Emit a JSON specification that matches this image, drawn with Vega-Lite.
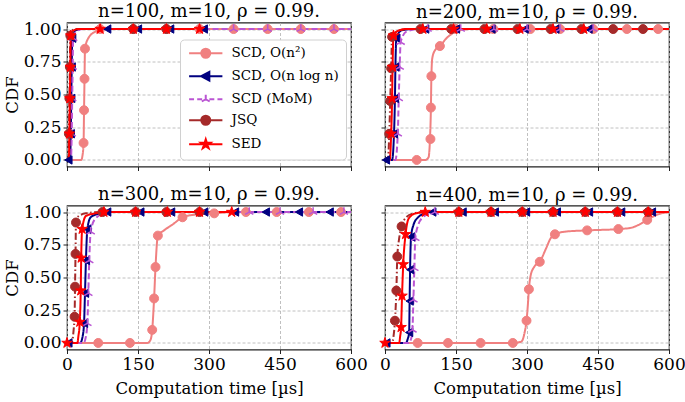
{
"$schema": "https://vega.github.io/schema/vega-lite/v6.json",
"padding": {"left": 3, "top": 1.5, "right": 4, "bottom": 2},
"datasets": {
"curves": [
{"n":100,"s":"n2","t":0,"y":0},{"n":100,"s":"n2","t":30,"y":0},{"n":100,"s":"n2","t":33,"y":0.04},{"n":100,"s":"n2","t":35,"y":0.13},{"n":100,"s":"n2","t":36,"y":0.38},{"n":100,"s":"n2","t":37,"y":0.62},{"n":100,"s":"n2","t":38,"y":0.85},{"n":100,"s":"n2","t":45,"y":0.93},{"n":100,"s":"n2","t":60,"y":0.98},{"n":100,"s":"n2","t":80,"y":1},{"n":100,"s":"n2","t":600,"y":1},
{"n":100,"s":"nlogn","t":0,"y":0},{"n":100,"s":"nlogn","t":6,"y":0},{"n":100,"s":"nlogn","t":8,"y":0.2},{"n":100,"s":"nlogn","t":9,"y":0.47},{"n":100,"s":"nlogn","t":10,"y":0.71},{"n":100,"s":"nlogn","t":11,"y":0.93},{"n":100,"s":"nlogn","t":18,"y":0.99},{"n":100,"s":"nlogn","t":30,"y":1},{"n":100,"s":"nlogn","t":290,"y":1},
{"n":100,"s":"mom","t":0,"y":0},{"n":100,"s":"mom","t":8,"y":0},{"n":100,"s":"mom","t":10,"y":0.2},{"n":100,"s":"mom","t":11,"y":0.47},{"n":100,"s":"mom","t":12,"y":0.71},{"n":100,"s":"mom","t":13,"y":0.93},{"n":100,"s":"mom","t":22,"y":0.99},{"n":100,"s":"mom","t":35,"y":1},{"n":100,"s":"mom","t":600,"y":1},
{"n":100,"s":"jsq","t":0,"y":0},{"n":100,"s":"jsq","t":3,"y":0},{"n":100,"s":"jsq","t":4,"y":0.2},{"n":100,"s":"jsq","t":5,"y":0.47},{"n":100,"s":"jsq","t":6,"y":0.71},{"n":100,"s":"jsq","t":7,"y":0.95},{"n":100,"s":"jsq","t":15,"y":1},{"n":100,"s":"jsq","t":280,"y":1},
{"n":100,"s":"sed","t":0,"y":0},{"n":100,"s":"sed","t":4,"y":0},{"n":100,"s":"sed","t":5,"y":0.2},{"n":100,"s":"sed","t":6,"y":0.47},{"n":100,"s":"sed","t":7,"y":0.71},{"n":100,"s":"sed","t":8,"y":0.95},{"n":100,"s":"sed","t":14,"y":0.99},{"n":100,"s":"sed","t":25,"y":1},{"n":100,"s":"sed","t":280,"y":1},

{"n":200,"s":"n2","t":0,"y":0},{"n":200,"s":"n2","t":85,"y":0},{"n":200,"s":"n2","t":92,"y":0.02},{"n":200,"s":"n2","t":95,"y":0.16},{"n":200,"s":"n2","t":97,"y":0.4},{"n":200,"s":"n2","t":98,"y":0.64},{"n":200,"s":"n2","t":100,"y":0.78},{"n":200,"s":"n2","t":106,"y":0.84},{"n":200,"s":"n2","t":116,"y":0.87},{"n":200,"s":"n2","t":130,"y":0.93},{"n":200,"s":"n2","t":150,"y":0.98},{"n":200,"s":"n2","t":180,"y":1},{"n":200,"s":"n2","t":600,"y":1},
{"n":200,"s":"nlogn","t":0,"y":0},{"n":200,"s":"nlogn","t":15,"y":0},{"n":200,"s":"nlogn","t":19,"y":0.2},{"n":200,"s":"nlogn","t":21,"y":0.47},{"n":200,"s":"nlogn","t":22,"y":0.71},{"n":200,"s":"nlogn","t":24,"y":0.93},{"n":200,"s":"nlogn","t":35,"y":0.99},{"n":200,"s":"nlogn","t":60,"y":1},{"n":200,"s":"nlogn","t":600,"y":1},
{"n":200,"s":"mom","t":0,"y":0},{"n":200,"s":"mom","t":22,"y":0},{"n":200,"s":"mom","t":27,"y":0.2},{"n":200,"s":"mom","t":29,"y":0.47},{"n":200,"s":"mom","t":31,"y":0.71},{"n":200,"s":"mom","t":33,"y":0.9},{"n":200,"s":"mom","t":45,"y":0.98},{"n":200,"s":"mom","t":70,"y":1},{"n":200,"s":"mom","t":600,"y":1},
{"n":200,"s":"jsq","t":0,"y":0},{"n":200,"s":"jsq","t":6,"y":0},{"n":200,"s":"jsq","t":9,"y":0.2},{"n":200,"s":"jsq","t":11,"y":0.45},{"n":200,"s":"jsq","t":13,"y":0.7},{"n":200,"s":"jsq","t":15,"y":0.94},{"n":200,"s":"jsq","t":30,"y":0.99},{"n":200,"s":"jsq","t":50,"y":1},{"n":200,"s":"jsq","t":600,"y":1},
{"n":200,"s":"sed","t":0,"y":0},{"n":200,"s":"sed","t":10,"y":0},{"n":200,"s":"sed","t":13,"y":0.2},{"n":200,"s":"sed","t":15,"y":0.47},{"n":200,"s":"sed","t":16,"y":0.71},{"n":200,"s":"sed","t":18,"y":0.95},{"n":200,"s":"sed","t":30,"y":0.99},{"n":200,"s":"sed","t":45,"y":1},{"n":200,"s":"sed","t":600,"y":1},

{"n":300,"s":"n2","t":0,"y":0},{"n":300,"s":"n2","t":170,"y":0},{"n":300,"s":"n2","t":176,"y":0.02},{"n":300,"s":"n2","t":180,"y":0.1},{"n":300,"s":"n2","t":184,"y":0.34},{"n":300,"s":"n2","t":187,"y":0.58},{"n":300,"s":"n2","t":192,"y":0.82},{"n":300,"s":"n2","t":205,"y":0.86},{"n":300,"s":"n2","t":225,"y":0.91},{"n":300,"s":"n2","t":244,"y":0.96},{"n":300,"s":"n2","t":270,"y":0.98},{"n":300,"s":"n2","t":311,"y":0.99},{"n":300,"s":"n2","t":350,"y":1},{"n":300,"s":"n2","t":600,"y":1},
{"n":300,"s":"nlogn","t":0,"y":0},{"n":300,"s":"nlogn","t":28,"y":0},{"n":300,"s":"nlogn","t":33,"y":0.05},{"n":300,"s":"nlogn","t":36,"y":0.15},{"n":300,"s":"nlogn","t":38,"y":0.38},{"n":300,"s":"nlogn","t":40,"y":0.63},{"n":300,"s":"nlogn","t":43,"y":0.87},{"n":300,"s":"nlogn","t":50,"y":0.96},{"n":300,"s":"nlogn","t":70,"y":0.99},{"n":300,"s":"nlogn","t":90,"y":1},{"n":300,"s":"nlogn","t":600,"y":1},
{"n":300,"s":"mom","t":0,"y":0},{"n":300,"s":"mom","t":35,"y":0},{"n":300,"s":"mom","t":40,"y":0.05},{"n":300,"s":"mom","t":43,"y":0.15},{"n":300,"s":"mom","t":45,"y":0.38},{"n":300,"s":"mom","t":47,"y":0.63},{"n":300,"s":"mom","t":50,"y":0.85},{"n":300,"s":"mom","t":60,"y":0.95},{"n":300,"s":"mom","t":80,"y":0.99},{"n":300,"s":"mom","t":100,"y":1},{"n":300,"s":"mom","t":600,"y":1},
{"n":300,"s":"jsq","t":0,"y":0},{"n":300,"s":"jsq","t":10,"y":0},{"n":300,"s":"jsq","t":14,"y":0.1},{"n":300,"s":"jsq","t":16,"y":0.2},{"n":300,"s":"jsq","t":17,"y":0.43},{"n":300,"s":"jsq","t":18,"y":0.68},{"n":300,"s":"jsq","t":19,"y":0.92},{"n":300,"s":"jsq","t":25,"y":0.97},{"n":300,"s":"jsq","t":40,"y":0.99},{"n":300,"s":"jsq","t":70,"y":1},{"n":300,"s":"jsq","t":350,"y":1},
{"n":300,"s":"sed","t":0,"y":0},{"n":300,"s":"sed","t":22,"y":0},{"n":300,"s":"sed","t":24,"y":0.05},{"n":300,"s":"sed","t":27,"y":0.16},{"n":300,"s":"sed","t":29,"y":0.4},{"n":300,"s":"sed","t":30,"y":0.65},{"n":300,"s":"sed","t":32,"y":0.87},{"n":300,"s":"sed","t":40,"y":0.97},{"n":300,"s":"sed","t":60,"y":0.99},{"n":300,"s":"sed","t":80,"y":1},{"n":300,"s":"sed","t":350,"y":1},

{"n":400,"s":"n2","t":0,"y":0},{"n":400,"s":"n2","t":270,"y":0},{"n":400,"s":"n2","t":288,"y":0.01},{"n":400,"s":"n2","t":295,"y":0.08},{"n":400,"s":"n2","t":299,"y":0.17},{"n":400,"s":"n2","t":302,"y":0.3},{"n":400,"s":"n2","t":304,"y":0.41},{"n":400,"s":"n2","t":308,"y":0.52},{"n":400,"s":"n2","t":315,"y":0.58},{"n":400,"s":"n2","t":327,"y":0.62},{"n":400,"s":"n2","t":340,"y":0.72},{"n":400,"s":"n2","t":350,"y":0.8},{"n":400,"s":"n2","t":359,"y":0.83},{"n":400,"s":"n2","t":380,"y":0.85},{"n":400,"s":"n2","t":427,"y":0.86},{"n":400,"s":"n2","t":493,"y":0.87},{"n":400,"s":"n2","t":520,"y":0.88},{"n":400,"s":"n2","t":540,"y":0.91},{"n":400,"s":"n2","t":554,"y":0.94},{"n":400,"s":"n2","t":575,"y":0.98},{"n":400,"s":"n2","t":600,"y":1},
{"n":400,"s":"nlogn","t":0,"y":0},{"n":400,"s":"nlogn","t":44,"y":0},{"n":400,"s":"nlogn","t":48,"y":0.03},{"n":400,"s":"nlogn","t":51,"y":0.08},{"n":400,"s":"nlogn","t":52,"y":0.32},{"n":400,"s":"nlogn","t":53,"y":0.56},{"n":400,"s":"nlogn","t":55,"y":0.81},{"n":400,"s":"nlogn","t":60,"y":0.9},{"n":400,"s":"nlogn","t":70,"y":0.96},{"n":400,"s":"nlogn","t":85,"y":0.99},{"n":400,"s":"nlogn","t":100,"y":1},{"n":400,"s":"nlogn","t":600,"y":1},
{"n":400,"s":"mom","t":0,"y":0},{"n":400,"s":"mom","t":50,"y":0},{"n":400,"s":"mom","t":55,"y":0.03},{"n":400,"s":"mom","t":58,"y":0.1},{"n":400,"s":"mom","t":60,"y":0.33},{"n":400,"s":"mom","t":62,"y":0.57},{"n":400,"s":"mom","t":64,"y":0.8},{"n":400,"s":"mom","t":70,"y":0.9},{"n":400,"s":"mom","t":80,"y":0.96},{"n":400,"s":"mom","t":95,"y":0.99},{"n":400,"s":"mom","t":110,"y":1},{"n":400,"s":"mom","t":600,"y":1},
{"n":400,"s":"jsq","t":0,"y":0},{"n":400,"s":"jsq","t":15,"y":0},{"n":400,"s":"jsq","t":18,"y":0.05},{"n":400,"s":"jsq","t":21,"y":0.17},{"n":400,"s":"jsq","t":24,"y":0.4},{"n":400,"s":"jsq","t":26,"y":0.66},{"n":400,"s":"jsq","t":30,"y":0.8},{"n":400,"s":"jsq","t":35,"y":0.89},{"n":400,"s":"jsq","t":45,"y":0.96},{"n":400,"s":"jsq","t":60,"y":0.99},{"n":400,"s":"jsq","t":80,"y":1},{"n":400,"s":"jsq","t":600,"y":1},
{"n":400,"s":"sed","t":0,"y":0},{"n":400,"s":"sed","t":30,"y":0},{"n":400,"s":"sed","t":32,"y":0.05},{"n":400,"s":"sed","t":34,"y":0.12},{"n":400,"s":"sed","t":36,"y":0.36},{"n":400,"s":"sed","t":38.5,"y":0.6},{"n":400,"s":"sed","t":43.5,"y":0.83},{"n":400,"s":"sed","t":50,"y":0.95},{"n":400,"s":"sed","t":65,"y":0.99},{"n":400,"s":"sed","t":90,"y":1},{"n":400,"s":"sed","t":600,"y":1}
],
"marks": [
{"n":100,"s":"n2","t":35,"y":0.13},{"n":100,"s":"n2","t":36,"y":0.38},{"n":100,"s":"n2","t":37,"y":0.62},{"n":100,"s":"n2","t":38,"y":0.85},{"n":100,"s":"n2","t":70,"y":1},{"n":100,"s":"n2","t":140,"y":1},{"n":100,"s":"n2","t":210,"y":1},{"n":100,"s":"n2","t":280,"y":1},{"n":100,"s":"n2","t":352,"y":1},{"n":100,"s":"n2","t":424,"y":1},{"n":100,"s":"n2","t":494,"y":1},{"n":100,"s":"n2","t":564,"y":1},
{"n":100,"s":"nlogn","t":3,"y":0},{"n":100,"s":"nlogn","t":8,"y":0.2},{"n":100,"s":"nlogn","t":9,"y":0.47},{"n":100,"s":"nlogn","t":10,"y":0.71},{"n":100,"s":"nlogn","t":11,"y":0.93},{"n":100,"s":"nlogn","t":85,"y":1},{"n":100,"s":"nlogn","t":150,"y":1},{"n":100,"s":"nlogn","t":218,"y":1},{"n":100,"s":"nlogn","t":289,"y":1},
{"n":100,"s":"mom","t":10,"y":0.2},{"n":100,"s":"mom","t":11,"y":0.47},{"n":100,"s":"mom","t":12,"y":0.71},{"n":100,"s":"mom","t":13,"y":0.93},{"n":100,"s":"mom","t":352,"y":1},{"n":100,"s":"mom","t":424,"y":1},{"n":100,"s":"mom","t":494,"y":1},{"n":100,"s":"mom","t":564,"y":1},
{"n":100,"s":"jsq","t":4,"y":0.2},{"n":100,"s":"jsq","t":5,"y":0.47},{"n":100,"s":"jsq","t":6,"y":0.71},{"n":100,"s":"jsq","t":7,"y":0.95},{"n":100,"s":"jsq","t":140,"y":1},{"n":100,"s":"jsq","t":210,"y":1},
{"n":100,"s":"sed","t":5,"y":0.2},{"n":100,"s":"sed","t":6,"y":0.47},{"n":100,"s":"sed","t":7,"y":0.71},{"n":100,"s":"sed","t":8,"y":0.95},{"n":100,"s":"sed","t":70,"y":1},{"n":100,"s":"sed","t":140,"y":1},{"n":100,"s":"sed","t":210,"y":1},{"n":100,"s":"sed","t":280,"y":1},

{"n":200,"s":"n2","t":67,"y":0},{"n":200,"s":"n2","t":96,"y":0.16},{"n":200,"s":"n2","t":97,"y":0.4},{"n":200,"s":"n2","t":98,"y":0.64},{"n":200,"s":"n2","t":116,"y":0.87},{"n":200,"s":"n2","t":150,"y":1},{"n":200,"s":"n2","t":229,"y":1},{"n":200,"s":"n2","t":307,"y":1},{"n":200,"s":"n2","t":370,"y":1},{"n":200,"s":"n2","t":440,"y":1},{"n":200,"s":"n2","t":511,"y":1},{"n":200,"s":"n2","t":577,"y":1},
{"n":200,"s":"nlogn","t":2,"y":0},{"n":200,"s":"nlogn","t":19,"y":0.2},{"n":200,"s":"nlogn","t":21,"y":0.47},{"n":200,"s":"nlogn","t":22,"y":0.71},{"n":200,"s":"nlogn","t":24,"y":0.93},{"n":200,"s":"nlogn","t":85,"y":1},{"n":200,"s":"nlogn","t":150,"y":1},{"n":200,"s":"nlogn","t":225,"y":1},{"n":200,"s":"nlogn","t":295,"y":1},{"n":200,"s":"nlogn","t":360,"y":1},{"n":200,"s":"nlogn","t":430,"y":1},
{"n":200,"s":"mom","t":27,"y":0.2},{"n":200,"s":"mom","t":29,"y":0.47},{"n":200,"s":"mom","t":31,"y":0.71},{"n":200,"s":"mom","t":33,"y":0.9},{"n":200,"s":"mom","t":90,"y":1},{"n":200,"s":"mom","t":160,"y":1},{"n":200,"s":"mom","t":230,"y":1},{"n":200,"s":"mom","t":300,"y":1},{"n":200,"s":"mom","t":370,"y":1},{"n":200,"s":"mom","t":440,"y":1},
{"n":200,"s":"jsq","t":9,"y":0.2},{"n":200,"s":"jsq","t":11,"y":0.45},{"n":200,"s":"jsq","t":13,"y":0.7},{"n":200,"s":"jsq","t":15,"y":0.94},{"n":200,"s":"jsq","t":75,"y":1},{"n":200,"s":"jsq","t":140,"y":1},{"n":200,"s":"jsq","t":210,"y":1},{"n":200,"s":"jsq","t":280,"y":1},{"n":200,"s":"jsq","t":350,"y":1},{"n":200,"s":"jsq","t":415,"y":1},{"n":200,"s":"jsq","t":482,"y":1},{"n":200,"s":"jsq","t":545,"y":1},
{"n":200,"s":"sed","t":13,"y":0.2},{"n":200,"s":"sed","t":15,"y":0.47},{"n":200,"s":"sed","t":16,"y":0.71},{"n":200,"s":"sed","t":18,"y":0.95},{"n":200,"s":"sed","t":80,"y":1},{"n":200,"s":"sed","t":145,"y":1},{"n":200,"s":"sed","t":215,"y":1},{"n":200,"s":"sed","t":285,"y":1},{"n":200,"s":"sed","t":355,"y":1},{"n":200,"s":"sed","t":420,"y":1},

{"n":300,"s":"n2","t":66,"y":0},{"n":300,"s":"n2","t":133,"y":0},{"n":300,"s":"n2","t":180,"y":0.1},{"n":300,"s":"n2","t":184,"y":0.34},{"n":300,"s":"n2","t":187,"y":0.58},{"n":300,"s":"n2","t":192,"y":0.82},{"n":300,"s":"n2","t":244,"y":0.96},{"n":300,"s":"n2","t":311,"y":0.99},{"n":300,"s":"n2","t":378,"y":1},{"n":300,"s":"n2","t":443,"y":1},{"n":300,"s":"n2","t":511,"y":1},{"n":300,"s":"n2","t":579,"y":1},
{"n":300,"s":"nlogn","t":3,"y":0},{"n":300,"s":"nlogn","t":36,"y":0.15},{"n":300,"s":"nlogn","t":38,"y":0.38},{"n":300,"s":"nlogn","t":40,"y":0.63},{"n":300,"s":"nlogn","t":43,"y":0.87},{"n":300,"s":"nlogn","t":85,"y":1},{"n":300,"s":"nlogn","t":155,"y":1},{"n":300,"s":"nlogn","t":220,"y":1},{"n":300,"s":"nlogn","t":290,"y":1},{"n":300,"s":"nlogn","t":355,"y":1},{"n":300,"s":"nlogn","t":420,"y":1},{"n":300,"s":"nlogn","t":490,"y":1},{"n":300,"s":"nlogn","t":555,"y":1},
{"n":300,"s":"mom","t":43,"y":0.15},{"n":300,"s":"mom","t":45,"y":0.38},{"n":300,"s":"mom","t":47,"y":0.63},{"n":300,"s":"mom","t":50,"y":0.85},{"n":300,"s":"mom","t":385,"y":1},{"n":300,"s":"mom","t":450,"y":1},{"n":300,"s":"mom","t":520,"y":1},{"n":300,"s":"mom","t":585,"y":1},
{"n":300,"s":"jsq","t":16,"y":0.2},{"n":300,"s":"jsq","t":17,"y":0.43},{"n":300,"s":"jsq","t":18,"y":0.68},{"n":300,"s":"jsq","t":19,"y":0.92},{"n":300,"s":"jsq","t":75,"y":1},{"n":300,"s":"jsq","t":145,"y":1},{"n":300,"s":"jsq","t":210,"y":1},{"n":300,"s":"jsq","t":280,"y":1},
{"n":300,"s":"sed","t":0,"y":0},{"n":300,"s":"sed","t":27,"y":0.16},{"n":300,"s":"sed","t":29,"y":0.4},{"n":300,"s":"sed","t":30,"y":0.65},{"n":300,"s":"sed","t":32,"y":0.87},{"n":300,"s":"sed","t":78,"y":1},{"n":300,"s":"sed","t":145,"y":1},{"n":300,"s":"sed","t":212,"y":1},{"n":300,"s":"sed","t":280,"y":1},{"n":300,"s":"sed","t":348,"y":1},

{"n":400,"s":"n2","t":69,"y":0},{"n":400,"s":"n2","t":133,"y":0},{"n":400,"s":"n2","t":202,"y":0},{"n":400,"s":"n2","t":270,"y":0},{"n":400,"s":"n2","t":299,"y":0.17},{"n":400,"s":"n2","t":304,"y":0.41},{"n":400,"s":"n2","t":327,"y":0.62},{"n":400,"s":"n2","t":359,"y":0.83},{"n":400,"s":"n2","t":427,"y":0.86},{"n":400,"s":"n2","t":493,"y":0.87},{"n":400,"s":"n2","t":554,"y":0.94},
{"n":400,"s":"nlogn","t":3,"y":0},{"n":400,"s":"nlogn","t":51,"y":0.08},{"n":400,"s":"nlogn","t":52,"y":0.32},{"n":400,"s":"nlogn","t":53,"y":0.56},{"n":400,"s":"nlogn","t":55,"y":0.81},{"n":400,"s":"nlogn","t":100,"y":1},{"n":400,"s":"nlogn","t":164,"y":1},{"n":400,"s":"nlogn","t":232,"y":1},{"n":400,"s":"nlogn","t":298,"y":1},{"n":400,"s":"nlogn","t":363,"y":1},{"n":400,"s":"nlogn","t":431,"y":1},{"n":400,"s":"nlogn","t":499,"y":1},{"n":400,"s":"nlogn","t":564,"y":1},
{"n":400,"s":"mom","t":58,"y":0.1},{"n":400,"s":"mom","t":60,"y":0.33},{"n":400,"s":"mom","t":62,"y":0.57},{"n":400,"s":"mom","t":64,"y":0.8},{"n":400,"s":"mom","t":105,"y":1},
{"n":400,"s":"jsq","t":21,"y":0.17},{"n":400,"s":"jsq","t":24,"y":0.4},{"n":400,"s":"jsq","t":26,"y":0.66},{"n":400,"s":"jsq","t":35,"y":0.89},{"n":400,"s":"jsq","t":156,"y":1},{"n":400,"s":"jsq","t":224,"y":1},{"n":400,"s":"jsq","t":290,"y":1},{"n":400,"s":"jsq","t":355,"y":1},{"n":400,"s":"jsq","t":423,"y":1},{"n":400,"s":"jsq","t":491,"y":1},{"n":400,"s":"jsq","t":556,"y":1},
{"n":400,"s":"sed","t":0,"y":0},{"n":400,"s":"sed","t":34,"y":0.12},{"n":400,"s":"sed","t":36,"y":0.36},{"n":400,"s":"sed","t":38.5,"y":0.6},{"n":400,"s":"sed","t":43.5,"y":0.83},{"n":400,"s":"sed","t":85,"y":1},{"n":400,"s":"sed","t":156,"y":1},{"n":400,"s":"sed","t":224,"y":1},{"n":400,"s":"sed","t":290,"y":1},{"n":400,"s":"sed","t":355,"y":1},{"n":400,"s":"sed","t":423,"y":1},{"n":400,"s":"sed","t":491,"y":1},{"n":400,"s":"sed","t":556,"y":1}
]
},
"columns": 2,
"spacing": {"row": 39, "column": 34},
"bounds": "flush",
"concat": [
{
"width": 284, "height": 144,
"title": "n=100, m=10, ρ = 0.99.",
"encoding": {
"x": {"field": "t", "type": "quantitative", "scale": {"domain": [0, 600], "nice": false, "zero": false}, "axis": {"values": [0, 150, 300, 450, 600], "labels": false, "title": null}},
"y": {"field": "y", "type": "quantitative", "scale": {"domain": [-0.05, 1.05], "nice": false, "zero": false}, "axis": {"values": [0, 0.25, 0.5, 0.75, 1], "format": ".2f", "title": "CDF"}}
},
"layer": [
{"data": {"name": "curves"}, "transform": [{"filter": "datum.n===100"}], "mark": {"type": "line", "strokeWidth": 2, "interpolate": "monotone"},
"encoding": {
"color": {"field": "s", "type": "nominal", "scale": {"domain": ["sed", "jsq", "mom", "nlogn", "n2"], "range": ["#FF0000", "#A52A2A", "#BA55D3", "#000080", "#F08080"]}, "legend": null},
"strokeDash": {"field": "s", "type": "nominal", "scale": {"domain": ["jsq", "sed", "n2", "nlogn", "mom"], "range": [[7, 2.5, 1.5, 2.5], [1, 0], [1, 0], [1, 0], [6, 3]]}, "legend": null}}},
{"data": {"name": "marks"}, "transform": [{"filter": "datum.n===100"}], "mark": {"type": "point", "filled": true, "opacity": 0},
"encoding": {
"fill": {"field": "s", "type": "nominal", "scale": {"domain": ["n2", "nlogn", "mom", "jsq", "sed"], "range": ["#F08080", "#000080", "#BA55D3", "#A52A2A", "#FF0000"]},
"legend": {"orient": "none", "legendX": 113, "legendY": 17, "title": null, "labelExpr": "datum.value==='n2'?'SCD, O(n²)':datum.value==='nlogn'?'SCD, O(n log n)':datum.value==='mom'?'SCD (MoM)':datum.value==='jsq'?'JSQ':'SED'", "symbolSize": 81, "symbolOffset": 12, "labelOffset": 19, "rowPadding": 5, "padding": 7, "fillColor": "#ffffff", "strokeColor": "#d0d0d0", "cornerRadius": 4, "labelFontSize": 13.5, "labelFont": "DejaVu Serif", "labelColor": "#000000", "symbolStrokeWidth": 2, "symbolOpacity": 1}},
"stroke": {"field": "s", "type": "nominal", "scale": {"domain": ["n2", "nlogn", "mom", "jsq", "sed"], "range": ["#F08080", "#000080", "#BA55D3", "#A52A2A", "#FF0000"]},
"legend": {"orient": "none", "legendX": 113, "legendY": 17, "title": null, "labelExpr": "datum.value==='n2'?'SCD, O(n²)':datum.value==='nlogn'?'SCD, O(n log n)':datum.value==='mom'?'SCD (MoM)':datum.value==='jsq'?'JSQ':'SED'", "symbolSize": 81, "symbolOffset": 12, "labelOffset": 19, "rowPadding": 5, "padding": 7, "fillColor": "#ffffff", "strokeColor": "#d0d0d0", "cornerRadius": 4, "labelFontSize": 13.5, "labelFont": "DejaVu Serif", "labelColor": "#000000", "symbolStrokeWidth": 2, "symbolOpacity": 1}},
"shape": {"field": "s", "type": "nominal", "scale": {"domain": ["n2", "nlogn", "mom", "jsq", "sed"], "range": ["M-3.7,0L3.7,0M-1,0A1,1,0,1,0,1,0A1,1,0,1,0,-1,0Z", "M-3.7,0L3.7,0M-1,0L0.8,-0.95L0.8,0.95Z", "M-3.7,0L-2.6,0M-1.9,0L-0.8,0M0.8,0L1.9,0M2.6,0L3.7,0M0,0L0,-1M0,0L-0.87,0.5M0,0L0.87,0.5", "M-3.7,0L3.7,0M-1,0A1,1,0,1,0,1,0A1,1,0,1,0,-1,0Z", "M-3.7,0L3.7,0M0,-1.1L0.25,-0.34L1.05,-0.34L0.4,0.13L0.65,0.89L0,0.42L-0.65,0.89L-0.4,0.13L-1.05,-0.34L-0.25,-0.34Z"]},
"legend": {"orient": "none", "legendX": 113, "legendY": 17, "title": null, "labelExpr": "datum.value==='n2'?'SCD, O(n²)':datum.value==='nlogn'?'SCD, O(n log n)':datum.value==='mom'?'SCD (MoM)':datum.value==='jsq'?'JSQ':'SED'", "symbolSize": 81, "symbolOffset": 12, "labelOffset": 19, "rowPadding": 5, "padding": 7, "fillColor": "#ffffff", "strokeColor": "#d0d0d0", "cornerRadius": 4, "labelFontSize": 13.5, "labelFont": "DejaVu Serif", "labelColor": "#000000", "symbolStrokeWidth": 2, "symbolOpacity": 1}}
}},
{"data": {"name": "marks"}, "transform": [{"filter": "datum.n===100&&datum.s==='n2'"}], "mark": {"type": "point", "shape": "circle", "filled": true, "color": "#F08080", "stroke": "#F08080", "strokeWidth": 1, "size": 80, "opacity": 1}},
{"data": {"name": "marks"}, "transform": [{"filter": "datum.n===100&&datum.s==='nlogn'"}], "mark": {"type": "point", "shape": "triangle-left", "filled": true, "color": "#000080", "stroke": "#000080", "strokeWidth": 1, "size": 70, "opacity": 1}},
{"data": {"name": "marks"}, "transform": [{"filter": "datum.n===100&&datum.s==='mom'"}], "mark": {"type": "point", "shape": "M0,0L0,-1M0,0L-0.87,0.5M0,0L0.87,0.5", "filled": false, "color": "#BA55D3", "strokeWidth": 1.5, "size": 90, "opacity": 1}},
{"data": {"name": "marks"}, "transform": [{"filter": "datum.n===100&&datum.s==='jsq'"}], "mark": {"type": "point", "shape": "circle", "filled": true, "color": "#A52A2A", "stroke": "#A52A2A", "strokeWidth": 1, "size": 80, "opacity": 1}},
{"data": {"name": "marks"}, "transform": [{"filter": "datum.n===100&&datum.s==='sed'"}], "mark": {"type": "point", "shape": "M0,-1.1L0.25,-0.34L1.05,-0.34L0.4,0.13L0.65,0.89L0,0.42L-0.65,0.89L-0.4,0.13L-1.05,-0.34L-0.25,-0.34Z", "filled": true, "color": "#FF0000", "stroke": "#FF0000", "strokeWidth": 1, "size": 100, "opacity": 1}}
]
},
{
"width": 284, "height": 144,
"title": "n=200, m=10, ρ = 0.99.",
"encoding": {
"x": {"field": "t", "type": "quantitative", "scale": {"domain": [0, 600], "nice": false, "zero": false}, "axis": {"values": [0, 150, 300, 450, 600], "labels": false, "title": null}},
"y": {"field": "y", "type": "quantitative", "scale": {"domain": [-0.05, 1.05], "nice": false, "zero": false}, "axis": {"values": [0, 0.25, 0.5, 0.75, 1], "labels": false, "title": null}}
},
"layer": [
{"data": {"name": "curves"}, "transform": [{"filter": "datum.n===200"}], "mark": {"type": "line", "strokeWidth": 2, "interpolate": "monotone"},
"encoding": {
"color": {"field": "s", "type": "nominal", "scale": {"domain": ["sed", "jsq", "mom", "nlogn", "n2"], "range": ["#FF0000", "#A52A2A", "#BA55D3", "#000080", "#F08080"]}, "legend": null},
"strokeDash": {"field": "s", "type": "nominal", "scale": {"domain": ["jsq", "sed", "n2", "nlogn", "mom"], "range": [[7, 2.5, 1.5, 2.5], [1, 0], [1, 0], [1, 0], [6, 3]]}, "legend": null}}},
{"data": {"name": "marks"}, "transform": [{"filter": "datum.n===200&&datum.s==='n2'"}], "mark": {"type": "point", "shape": "circle", "filled": true, "color": "#F08080", "stroke": "#F08080", "strokeWidth": 1, "size": 80, "opacity": 1}},
{"data": {"name": "marks"}, "transform": [{"filter": "datum.n===200&&datum.s==='nlogn'"}], "mark": {"type": "point", "shape": "triangle-left", "filled": true, "color": "#000080", "stroke": "#000080", "strokeWidth": 1, "size": 70, "opacity": 1}},
{"data": {"name": "marks"}, "transform": [{"filter": "datum.n===200&&datum.s==='mom'"}], "mark": {"type": "point", "shape": "M0,0L0,-1M0,0L-0.87,0.5M0,0L0.87,0.5", "filled": false, "color": "#BA55D3", "strokeWidth": 1.5, "size": 90, "opacity": 1}},
{"data": {"name": "marks"}, "transform": [{"filter": "datum.n===200&&datum.s==='jsq'"}], "mark": {"type": "point", "shape": "circle", "filled": true, "color": "#A52A2A", "stroke": "#A52A2A", "strokeWidth": 1, "size": 80, "opacity": 1}},
{"data": {"name": "marks"}, "transform": [{"filter": "datum.n===200&&datum.s==='sed'"}], "mark": {"type": "point", "shape": "M0,-1.1L0.25,-0.34L1.05,-0.34L0.4,0.13L0.65,0.89L0,0.42L-0.65,0.89L-0.4,0.13L-1.05,-0.34L-0.25,-0.34Z", "filled": true, "color": "#FF0000", "stroke": "#FF0000", "strokeWidth": 1, "size": 100, "opacity": 1}}
]
},
{
"width": 284, "height": 144,
"title": "n=300, m=10, ρ = 0.99.",
"encoding": {
"x": {"field": "t", "type": "quantitative", "scale": {"domain": [0, 600], "nice": false, "zero": false}, "axis": {"values": [0, 150, 300, 450, 600], "title": "Computation time [µs]"}},
"y": {"field": "y", "type": "quantitative", "scale": {"domain": [-0.05, 1.05], "nice": false, "zero": false}, "axis": {"values": [0, 0.25, 0.5, 0.75, 1], "format": ".2f", "title": "CDF"}}
},
"layer": [
{"data": {"name": "curves"}, "transform": [{"filter": "datum.n===300"}], "mark": {"type": "line", "strokeWidth": 2, "interpolate": "monotone"},
"encoding": {
"color": {"field": "s", "type": "nominal", "scale": {"domain": ["sed", "jsq", "mom", "nlogn", "n2"], "range": ["#FF0000", "#A52A2A", "#BA55D3", "#000080", "#F08080"]}, "legend": null},
"strokeDash": {"field": "s", "type": "nominal", "scale": {"domain": ["jsq", "sed", "n2", "nlogn", "mom"], "range": [[7, 2.5, 1.5, 2.5], [1, 0], [1, 0], [1, 0], [6, 3]]}, "legend": null}}},
{"data": {"name": "marks"}, "transform": [{"filter": "datum.n===300&&datum.s==='n2'"}], "mark": {"type": "point", "shape": "circle", "filled": true, "color": "#F08080", "stroke": "#F08080", "strokeWidth": 1, "size": 80, "opacity": 1}},
{"data": {"name": "marks"}, "transform": [{"filter": "datum.n===300&&datum.s==='nlogn'"}], "mark": {"type": "point", "shape": "triangle-left", "filled": true, "color": "#000080", "stroke": "#000080", "strokeWidth": 1, "size": 70, "opacity": 1}},
{"data": {"name": "marks"}, "transform": [{"filter": "datum.n===300&&datum.s==='mom'"}], "mark": {"type": "point", "shape": "M0,0L0,-1M0,0L-0.87,0.5M0,0L0.87,0.5", "filled": false, "color": "#BA55D3", "strokeWidth": 1.5, "size": 90, "opacity": 1}},
{"data": {"name": "marks"}, "transform": [{"filter": "datum.n===300&&datum.s==='jsq'"}], "mark": {"type": "point", "shape": "circle", "filled": true, "color": "#A52A2A", "stroke": "#A52A2A", "strokeWidth": 1, "size": 80, "opacity": 1}},
{"data": {"name": "marks"}, "transform": [{"filter": "datum.n===300&&datum.s==='sed'"}], "mark": {"type": "point", "shape": "M0,-1.1L0.25,-0.34L1.05,-0.34L0.4,0.13L0.65,0.89L0,0.42L-0.65,0.89L-0.4,0.13L-1.05,-0.34L-0.25,-0.34Z", "filled": true, "color": "#FF0000", "stroke": "#FF0000", "strokeWidth": 1, "size": 100, "opacity": 1}}
]
},
{
"width": 284, "height": 144,
"title": "n=400, m=10, ρ = 0.99.",
"encoding": {
"x": {"field": "t", "type": "quantitative", "scale": {"domain": [0, 600], "nice": false, "zero": false}, "axis": {"values": [0, 150, 300, 450, 600], "title": "Computation time [µs]"}},
"y": {"field": "y", "type": "quantitative", "scale": {"domain": [-0.05, 1.05], "nice": false, "zero": false}, "axis": {"values": [0, 0.25, 0.5, 0.75, 1], "labels": false, "title": null}}
},
"layer": [
{"data": {"name": "curves"}, "transform": [{"filter": "datum.n===400"}], "mark": {"type": "line", "strokeWidth": 2, "interpolate": "monotone"},
"encoding": {
"color": {"field": "s", "type": "nominal", "scale": {"domain": ["sed", "jsq", "mom", "nlogn", "n2"], "range": ["#FF0000", "#A52A2A", "#BA55D3", "#000080", "#F08080"]}, "legend": null},
"strokeDash": {"field": "s", "type": "nominal", "scale": {"domain": ["jsq", "sed", "n2", "nlogn", "mom"], "range": [[7, 2.5, 1.5, 2.5], [1, 0], [1, 0], [1, 0], [6, 3]]}, "legend": null}}},
{"data": {"name": "marks"}, "transform": [{"filter": "datum.n===400&&datum.s==='n2'"}], "mark": {"type": "point", "shape": "circle", "filled": true, "color": "#F08080", "stroke": "#F08080", "strokeWidth": 1, "size": 80, "opacity": 1}},
{"data": {"name": "marks"}, "transform": [{"filter": "datum.n===400&&datum.s==='nlogn'"}], "mark": {"type": "point", "shape": "triangle-left", "filled": true, "color": "#000080", "stroke": "#000080", "strokeWidth": 1, "size": 70, "opacity": 1}},
{"data": {"name": "marks"}, "transform": [{"filter": "datum.n===400&&datum.s==='mom'"}], "mark": {"type": "point", "shape": "M0,0L0,-1M0,0L-0.87,0.5M0,0L0.87,0.5", "filled": false, "color": "#BA55D3", "strokeWidth": 1.5, "size": 90, "opacity": 1}},
{"data": {"name": "marks"}, "transform": [{"filter": "datum.n===400&&datum.s==='jsq'"}], "mark": {"type": "point", "shape": "circle", "filled": true, "color": "#A52A2A", "stroke": "#A52A2A", "strokeWidth": 1, "size": 80, "opacity": 1}},
{"data": {"name": "marks"}, "transform": [{"filter": "datum.n===400&&datum.s==='sed'"}], "mark": {"type": "point", "shape": "M0,-1.1L0.25,-0.34L1.05,-0.34L0.4,0.13L0.65,0.89L0,0.42L-0.65,0.89L-0.4,0.13L-1.05,-0.34L-0.25,-0.34Z", "filled": true, "color": "#FF0000", "stroke": "#FF0000", "strokeWidth": 1, "size": 100, "opacity": 1}}
]
}
],
"config": {
"font": "DejaVu Serif",
"view": {"stroke": "#222222", "strokeWidth": 1.2},
"axis": {"domain": false, "tickColor": "#222222", "tickSize": 4, "tickWidth": 1, "gridColor": "#b0b0b0", "gridDash": [3, 2], "gridWidth": 0.8, "labelFont": "DejaVu Serif", "labelFontSize": 17, "labelColor": "#000000", "titleFont": "DejaVu Serif", "titleFontSize": 16.5, "titleFontWeight": "normal", "titleColor": "#000000", "labelPadding": 2, "labelOverlap": false, "labelFlush": false},
"axisY": {"titlePadding": 3},
"axisX": {"titlePadding": 8, "labelPadding": 3},
"title": {"font": "DejaVu Serif", "fontSize": 18, "fontWeight": "normal", "color": "#000000", "offset": -0.5}
}
}
